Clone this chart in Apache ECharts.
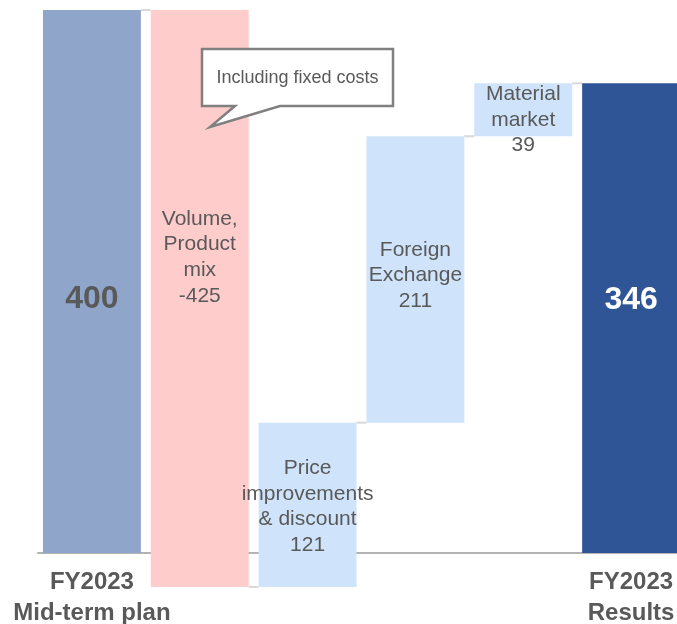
<!DOCTYPE html>
<html>
<head>
<meta charset="utf-8">
<script src="https://cdn.jsdelivr.net/npm/echarts@6/dist/echarts.min.js"></script>
<style>html,body{margin:0;padding:0;background:#fff;}#c{width:677px;height:624px;}</style>
</head>
<body>
<div id="c"></div>
<script>
// ---- data ----
var categories = ['FY2023 Mid-term plan', 'Volume, Product mix', 'Price improvements & discount', 'Foreign Exchange', 'Material market', 'FY2023 Results'];
var tickLabels = ['FY2023\nMid-term plan', '', '', '', '', 'FY2023\nResults'];
var values = [400, -425, 121, 211, 39, 346];
var kinds = ['total', 'delta', 'delta', 'delta', 'delta', 'total'];
var barLabels = ['400', 'Volume,\nProduct\nmix\n-425', 'Price\nimprovements\n& discount\n121', 'Foreign\nExchange\n211', 'Material\nmarket\n39', '346'];
var calloutText = 'Including fixed costs';

// ---- styles ----
var FONT = '"Liberation Sans", Arial';
var barColors = ['#8FA5C9', '#FFCCCC', '#CFE4FA', '#CFE4FA', '#CFE4FA', '#2F5597'];
var labelColors = ['#595959', '#595959', '#595959', '#595959', '#595959', '#ffffff'];
var labelFonts = ['bold 32px ' + FONT, '21px ' + FONT, '21px ' + FONT, '21px ' + FONT, '21px ' + FONT, 'bold 32px ' + FONT];
var labelOffsets = [[0, 18], [0, -41], [0, 2], [0, -4], [0, 10], [0, -18]];

// build ranges
var rangeData = [];
var connData = [];
var cum = 0;
for (var i = 0; i < values.length; i++) {
  var lo, hi;
  if (kinds[i] === 'total') { lo = 0; hi = values[i]; cum = values[i]; }
  else { var nc = cum + values[i]; lo = Math.min(cum, nc); hi = Math.max(cum, nc); cum = nc; }
  rangeData.push([i, lo, hi]);
  if (i < values.length - 1) connData.push([i, cum]);
}

var BAR_RATIO = 0.908;
var chart = echarts.init(document.getElementById('c'));
chart.setOption({
  animation: false,
  grid: { left: 38, width: 647, top: 10, bottom: 71, containLabel: false, outerBoundsMode: 'none' },
  xAxis: {
    type: 'category',
    data: categories,
    axisLine: { onZero: true, lineStyle: { color: '#b3b3b3', width: 2 } },
    axisTick: { show: false },
    axisLabel: {
      interval: 0,
      margin: 14,
      formatter: function (v, idx) { return tickLabels[idx]; },
      color: '#595959',
      fontFamily: FONT,
      fontWeight: 'bold',
      fontSize: 24,
      lineHeight: 31
    },
    splitLine: { show: false }
  },
  yAxis: { type: 'value', min: 0, max: 400, show: false, splitLine: { show: false } },
  series: [
    {
      type: 'custom',
      z: 1,
      clip: false,
      data: connData,
      renderItem: function (params, api) {
        var idx = api.value(0), lvl = api.value(1);
        var w = api.size([1, 0])[0] * BAR_RATIO;
        var p = api.coord([idx, lvl]);
        var q = api.coord([idx + 1, lvl]);
        return { type: 'line', shape: { x1: p[0] + w / 2, y1: p[1], x2: q[0] - w / 2, y2: p[1] }, style: { stroke: '#d9d9d9', lineWidth: 2 } };
      }
    },
    {
      type: 'custom',
      z: 2,
      clip: false,
      data: rangeData,
      renderItem: function (params, api) {
        var idx = api.value(0), lo = api.value(1), hi = api.value(2);
        var w = api.size([1, 0])[0] * BAR_RATIO;
        var pt = api.coord([idx, hi]);
        var pb = api.coord([idx, lo]);
        return {
          type: 'rect',
          shape: { x: pt[0] - w / 2, y: pt[1], width: w, height: pb[1] - pt[1] },
          style: { fill: barColors[idx] },
          textContent: {
            style: { text: barLabels[idx], fill: labelColors[idx], font: labelFonts[idx], align: 'center', verticalAlign: 'middle', lineHeight: 25.7 }
          },
          textConfig: { position: 'inside', offset: labelOffsets[idx] }
        };
      }
    }
  ],
  graphic: [
    {
      type: 'polygon',
      z: 10,
      shape: { points: [[202, 49], [393, 49], [393, 106], [280, 106], [210, 127], [235, 106], [202, 106]] },
      style: { fill: '#ffffff', stroke: '#808080', lineWidth: 2.5, lineJoin: 'miter' }
    },
    {
      type: 'text',
      z: 11,
      x: 297.5, y: 78,
      style: { text: calloutText, fill: '#595959', font: '18px ' + FONT, align: 'center', verticalAlign: 'middle' }
    }
  ]
});
</script>
</body>
</html>
